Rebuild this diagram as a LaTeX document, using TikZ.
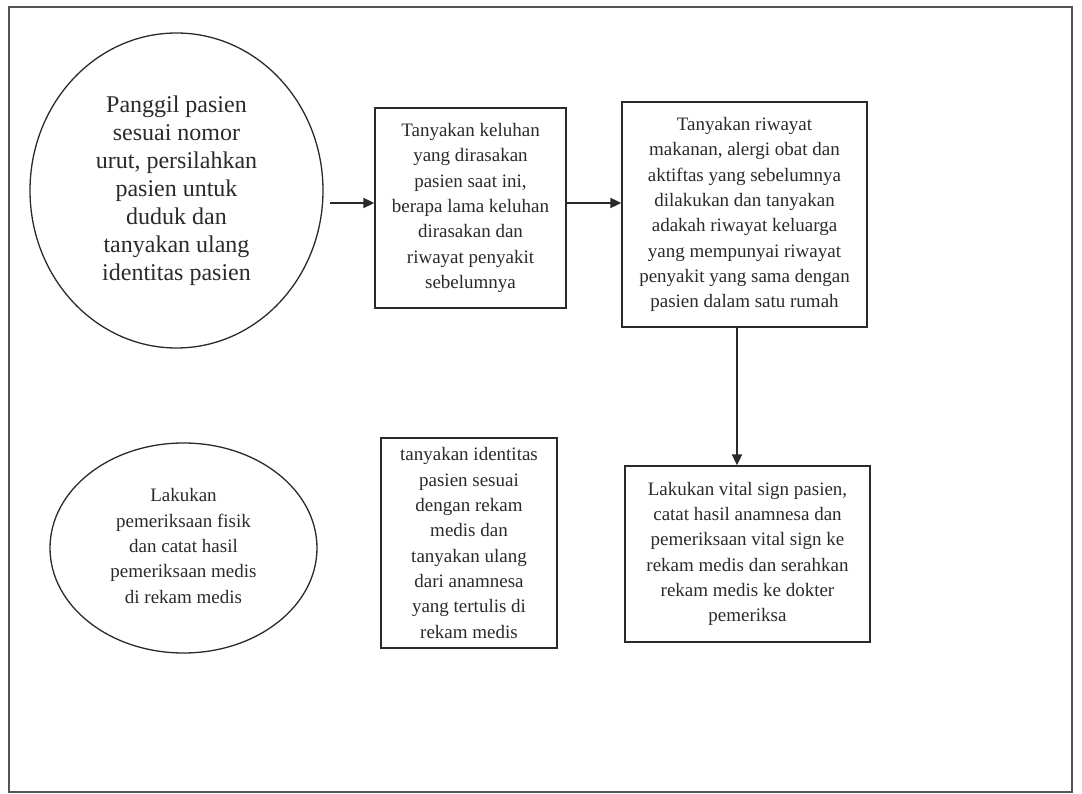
\documentclass[tikz,border=0pt]{standalone}
\usepackage{fontspec}
\setmainfont{Liberation Serif}
\usetikzlibrary{shapes.geometric,arrows.meta}
\definecolor{ink}{HTML}{2A2A2A}
\definecolor{frame}{HTML}{555555}
\begin{document}
\begin{tikzpicture}[x=1pt,y=-1pt,
  boxstyle/.style={draw=ink,line width=1.3pt,rectangle,inner sep=0pt,align=center,text=ink,font=\fontsize{19}{25.3}\selectfont},
  ovalstyle/.style={draw=ink,line width=1.3pt,ellipse,inner sep=0pt,align=center,text=ink},
  arr/.style={draw=ink,line width=1.8pt,-{Triangle[length=11pt,width=10pt]}}]
\useasboundingbox (0,0) rectangle (1082,794);
\draw[frame,line width=1.2pt] (9,7) rectangle (1072,792);
\node[ovalstyle,minimum width=293pt,minimum height=315pt] (c1) at (176.5,190.5) {};
\node[align=center,text=ink,font=\fontsize{24}{28}\selectfont] (t1) at (176.5,191) {Panggil pasien\\sesuai nomor\\urut, persilahkan\\pasien untuk\\duduk dan\\tanyakan ulang\\identitas pasien};
\node[boxstyle,minimum width=191pt,minimum height=200pt] (b2) at (470.5,208) {Tanyakan keluhan\\yang dirasakan\\pasien saat ini,\\berapa lama keluhan\\dirasakan dan\\riwayat penyakit\\sebelumnya};
\node[boxstyle,minimum width=245pt,minimum height=225pt] (b3) at (744.5,214.5) {Tanyakan riwayat\\makanan, alergi obat dan\\aktiftas yang sebelumnya\\dilakukan dan tanyakan\\adakah riwayat keluarga\\yang mempunyai riwayat\\penyakit yang sama dengan\\pasien dalam satu rumah};
\node[boxstyle,minimum width=176pt,minimum height=210pt] (b4) at (469,543) {tanyakan identitas\\pasien sesuai\\dengan rekam\\medis dan\\tanyakan ulang\\dari anamnesa\\yang tertulis di\\rekam medis};
\node[boxstyle,minimum width=245pt,minimum height=176pt] (b5) at (747.5,554) {Lakukan vital sign pasien,\\catat hasil anamnesa dan\\pemeriksaan vital sign ke\\rekam medis dan serahkan\\rekam medis ke dokter\\pemeriksa};
\node[ovalstyle,minimum width=267pt,minimum height=210pt] (c2) at (183.5,548) {};
\node[align=center,text=ink,font=\fontsize{19}{25.3}\selectfont] (t2) at (183.5,546) {Lakukan\\pemeriksaan fisik\\dan catat hasil\\pemeriksaan medis\\di rekam medis};
\coordinate (s1) at (330,203);
\coordinate (s2) at (566,203);
\coordinate (s3) at (737,327);
\draw[arr] (s1) -- (s1 -| b2.west);
\draw[arr] (s2) -- (s2 -| b3.west);
\draw[arr] (s3) -- (s3 |- b5.north);
\end{tikzpicture}
\end{document}
